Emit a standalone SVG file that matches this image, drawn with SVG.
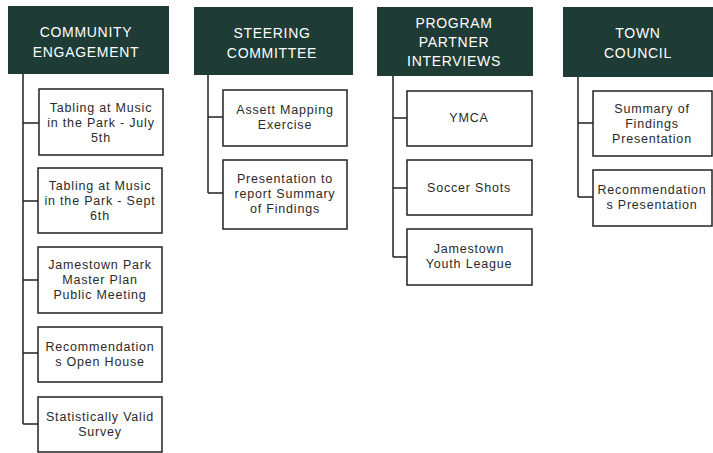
<svg xmlns="http://www.w3.org/2000/svg" width="713" height="453" viewBox="0 0 713 453">
<style>
.hdr{fill:#1f3b35}
.ht{fill:#ffffff;font-family:"Liberation Sans",Arial,sans-serif;font-size:14px;letter-spacing:0.7px;text-anchor:middle}
.box{fill:#ffffff;stroke:#222222;stroke-width:1.5}
.bt{fill:#2a2a2a;font-family:"Liberation Sans",Arial,sans-serif;font-size:12.5px;letter-spacing:0.8px;text-anchor:middle}
.ln{fill:none;stroke:#222222;stroke-width:1.5}
</style>
<rect width="713" height="453" fill="#ffffff"/>
<g id="connectors">
<path class="ln" d="M23 74 V424 M23 123 H39 M23 201 H38 M23 280 H38 M23 353 H38 M23 424 H38"/>
<path class="ln" d="M208 75 V193 M208 117 H223 M208 193 H223"/>
<path class="ln" d="M393 76 V257 M393 118 H407 M393 188 H407 M393 257 H407"/>
<path class="ln" d="M578 77 V197 M578 123 H593 M578 197 H593"/>
</g>
<g id="h-ce"><rect class="hdr" x="8" y="6" width="161" height="68"/><text class="ht" x="86" y="37">COMMUNITY</text><text class="ht" x="86" y="57">ENGAGEMENT</text></g>
<g id="h-sc"><rect class="hdr" x="194" y="7" width="159" height="68"/><text class="ht" x="272" y="38">STEERING</text><text class="ht" x="272" y="58">COMMITTEE</text></g>
<g id="h-ppi"><rect class="hdr" x="377" y="7" width="156" height="69"/><text class="ht" x="454" y="28">PROGRAM</text><text class="ht" x="454" y="47">PARTNER</text><text class="ht" x="454" y="66">INTERVIEWS</text></g>
<g id="h-tc"><rect class="hdr" x="563" y="7" width="150" height="70"/><text class="ht" x="638" y="38">TOWN</text><text class="ht" x="638" y="58">COUNCIL</text></g>

<g id="ce1"><rect class="box" x="39" y="89" width="124" height="66"/><text class="bt" x="101" y="112">Tabling at Music</text><text class="bt" x="101" y="127">in the Park - July</text><text class="bt" x="101" y="142">5th</text></g>
<g id="ce2"><rect class="box" x="38" y="168" width="124" height="65"/><text class="bt" x="100" y="190">Tabling at Music</text><text class="bt" x="100" y="205">in the Park - Sept</text><text class="bt" x="100" y="220">6th</text></g>
<g id="ce3"><rect class="box" x="38" y="247" width="124" height="66"/><text class="bt" x="100" y="269">Jamestown Park</text><text class="bt" x="100" y="284">Master Plan</text><text class="bt" x="100" y="299">Public Meeting</text></g>
<g id="ce4"><rect class="box" x="38" y="327" width="124" height="55"/><text class="bt" x="100" y="351">Recommendation</text><text class="bt" x="100" y="366">s Open House</text></g>
<g id="ce5"><rect class="box" x="38" y="397" width="124" height="55"/><text class="bt" x="100" y="421">Statistically Valid</text><text class="bt" x="100" y="436">Survey</text></g>

<g id="sc1"><rect class="box" x="223" y="90" width="124" height="56"/><text class="bt" x="285" y="114">Assett Mapping</text><text class="bt" x="285" y="129">Exercise</text></g>
<g id="sc2"><rect class="box" x="223" y="160" width="124" height="69"/><text class="bt" x="285" y="183">Presentation to</text><text class="bt" x="285" y="198">report Summary</text><text class="bt" x="285" y="213">of Findings</text></g>

<g id="ppi1"><rect class="box" x="407" y="91" width="125" height="55"/><text class="bt" x="469" y="122">YMCA</text></g>
<g id="ppi2"><rect class="box" x="407" y="160" width="125" height="55"/><text class="bt" x="469" y="192">Soccer Shots</text></g>
<g id="ppi3"><rect class="box" x="407" y="229" width="125" height="56"/><text class="bt" x="469" y="253">Jamestown</text><text class="bt" x="469" y="268">Youth League</text></g>

<g id="tc1"><rect class="box" x="593" y="91" width="119" height="65"/><text class="bt" x="652" y="113">Summary of</text><text class="bt" x="652" y="128">Findings</text><text class="bt" x="652" y="143">Presentation</text></g>
<g id="tc2"><rect class="box" x="593" y="170" width="119" height="56"/><text class="bt" x="652" y="194">Recommendation</text><text class="bt" x="652" y="209">s Presentation</text></g>
</svg>
